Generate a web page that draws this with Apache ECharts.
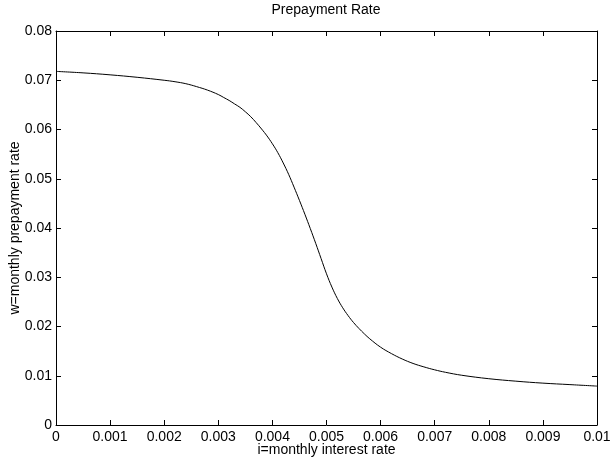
<!DOCTYPE html>
<html><head><meta charset="utf-8">
<script src="https://cdn.jsdelivr.net/npm/echarts@6/dist/echarts.min.js"></script>
<style>html,body{margin:0;padding:0;background:#fff}#c{width:613px;height:459px}</style>
</head><body><div id="c"></div>
<script>
const titleText = 'Prepayment Rate';
const xName = 'i=monthly interest rate';
const yName = 'w=monthly prepayment rate';
const iVals = [0, 0.0005, 0.001, 0.0015, 0.002, 0.0022, 0.0024, 0.0026, 0.0028, 0.003, 0.0031, 0.0032, 0.0033, 0.0034, 0.0035, 0.0036, 0.0037, 0.0038, 0.0039, 0.004, 0.0041, 0.0042, 0.0043, 0.0044, 0.0045, 0.0046, 0.0047, 0.0048, 0.0049, 0.005, 0.0051, 0.0052, 0.0053, 0.0054, 0.0055, 0.0056, 0.0057, 0.0058, 0.006, 0.0062, 0.0064, 0.0066, 0.0068, 0.007, 0.0072, 0.0075, 0.008, 0.0085, 0.009, 0.0095, 0.01];
const wVals = [0.0718, 0.0715, 0.0711, 0.0706, 0.0700, 0.0697, 0.0693, 0.0687, 0.0680, 0.0671, 0.0665, 0.0659, 0.0652, 0.0645, 0.0636, 0.0626, 0.0614, 0.0601, 0.0587, 0.0571, 0.0553, 0.0532, 0.0509, 0.0483, 0.0456, 0.0428, 0.0399, 0.0369, 0.0338, 0.0307, 0.0280, 0.0257, 0.0238, 0.0222, 0.0208, 0.0196, 0.0185, 0.0175, 0.0158, 0.0145, 0.0134, 0.0125, 0.0118, 0.0112, 0.0107, 0.0101, 0.0094, 0.0089, 0.0085, 0.0082, 0.0079];

const font = 'Liberation Sans, Arial, Helvetica, sans-serif';
const fmt = v => String(+v.toFixed(3));
const chart = echarts.init(document.getElementById('c'));
const lineSt = {color:'#000', width:1};
function frameAxis(extra){
  return Object.assign({
    axisLine:{show:true, onZero:false, lineStyle:lineSt},
    axisTick:{show:true, inside:true, length:5, lineStyle:lineSt},
    splitLine:{show:false}
  }, extra);
}
chart.setOption({
  animation:false,
  title:{text:titleText, left:326, textAlign:'center', top:3, padding:0, textStyle:{fontFamily:font, fontSize:14, fontWeight:'normal', color:'#000'}},
  grid:{left:56, right:16, top:31, bottom:34, containLabel:false, outerBoundsMode:'none'},
  graphic:[
    {type:'text', x:326.5, y:450, style:{text:xName, font:'14px ' + font, fill:'#000', align:'center', verticalAlign:'middle'}},
    {type:'text', x:15, y:228, rotation:Math.PI/2, style:{text:yName, font:'14px ' + font, fill:'#000', align:'center', verticalAlign:'middle'}}
  ],
  xAxis:[frameAxis({type:'value', min:0, max:0.01, interval:0.001, position:'bottom',
    axisLabel:{formatter:fmt, fontFamily:font, fontSize:14, color:'#000', margin:5}}),
    frameAxis({type:'value', min:0, max:0.01, interval:0.001, position:'top', axisLabel:{show:false}})],
  yAxis:[frameAxis({type:'value', min:0, max:0.08, interval:0.01, position:'left',
    axisLabel:{formatter:fmt, fontFamily:font, fontSize:14, color:'#000', margin:4}}),
    frameAxis({type:'value', min:0, max:0.08, interval:0.01, position:'right', axisLabel:{show:false}})],
  series:[{type:'line', data:iVals.map((x,k)=>[x,wVals[k]]), smooth:0.4, showSymbol:false,
    lineStyle:{color:'#000', width:1}}]
});
</script></body></html>
